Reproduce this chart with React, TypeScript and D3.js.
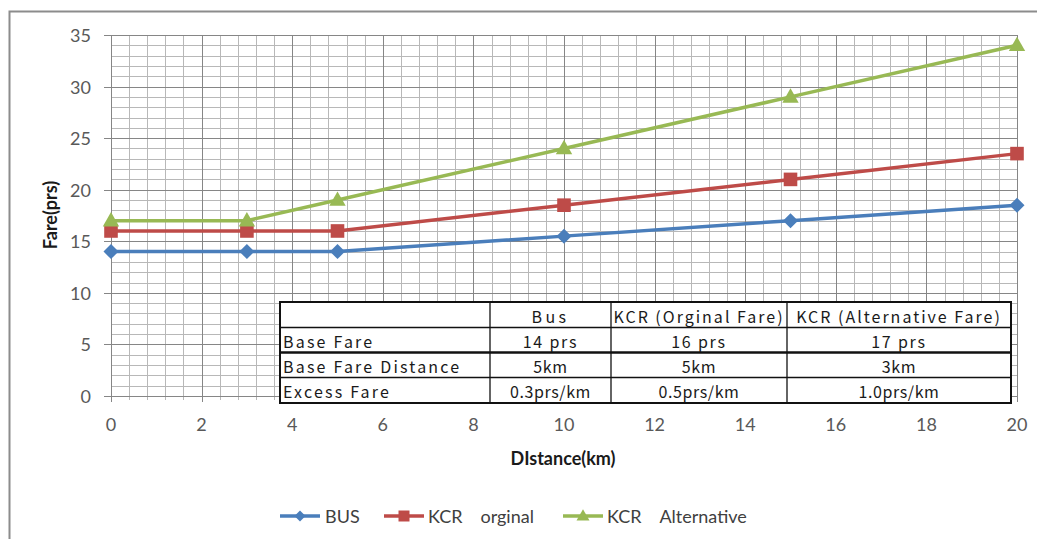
import React from "react";
import * as d3 from "d3";

const distances = [0, 3, 5, 10, 15, 20];
const busFare = [14, 14, 14, 15.5, 17, 18.5];
const kcrOriginalFare = [16, 16, 16, 18.5, 21, 23.5];
const kcrAlternativeFare = [17, 17, 19, 24, 29, 34];

const xTicks = [0, 2, 4, 6, 8, 10, 12, 14, 16, 18, 20];
const yTicks = [0, 5, 10, 15, 20, 25, 30, 35];

const seriesNames = ["BUS", "KCR\u3000orginal", "KCR\u3000Alternative"];
const seriesColors = ["#4A7EBB", "#BE4B48", "#98B954"];
const seriesShapes = ["diamond", "square", "triangle"];

const tableHeader = ["", "Bus", "KCR (Orginal Fare)", "KCR (Alternative Fare)"];
const tableRowLabels = ["Base Fare", "Base Fare Distance", "Excess Fare"];
const tableBus = ["14 prs", "5km", "0.3prs/km"];
const tableKcrOriginal = ["16 prs", "5km", "0.5prs/km"];
const tableKcrAlternative = ["17 prs", "3km", "1.0prs/km"];

const W = 1037;
const H = 539;
const X0 = 111, X1 = 1017, Y0 = 396, Y1 = 35;

function markerPath(shape: string, s: number): string {
  if (shape === "diamond") {
    return `M0,${-s}L${s},0L0,${s}L${-s},0Z`;
  }
  if (shape === "square") {
    return `M${-s},${-s}H${s}V${s}H${-s}Z`;
  }
  const h = s * 1.75;
  return `M0,${-h * 0.6}L${s},${h * 0.4}L${-s},${h * 0.4}Z`;
}

const markerSizes = [7.5, 6.8, 8.2];
const legendMarkerSizes = [5.5, 5.5, 6.5];

export default function App() {
  const x = d3.scaleLinear().domain([0, 20]).range([X0, X1]);
  const y = d3.scaleLinear().domain([0, 35]).range([Y0, Y1]);
  const series = [busFare, kcrOriginalFare, kcrAlternativeFare];
  const line = d3
    .line<[number, number]>()
    .x((d) => x(d[0]))
    .y((d) => y(d[1]));

  const minorX = d3.range(0, 20.0001, 0.4);
  const minorY = d3.range(0, 35.0001, 1);

  const tLeft = 280;
  const colEdges = [280, 490, 611, 787, 1011];
  const rowEdges = [302, 327.5, 352.5, 377.5, 403];
  const tableFont = "'Noto Sans CJK JP', sans-serif";
  const bodyCols = [tableBus, tableKcrOriginal, tableKcrAlternative];

  const legendItems = [
    { lx: 280, tx: 325 },
    { lx: 384, tx: 428 },
    { lx: 563, tx: 607 },
  ];

  return (
    <svg
      width={W}
      height={H}
      style={{ position: "absolute", left: 0, top: 0, background: "#fff" }}
    >
      <rect x={0} y={0} width={W} height={H} fill="#fff" />
      <rect x={9.5} y={11.5} width={W + 20} height={H + 20} fill="#fff" stroke="#8c8c8c" strokeWidth={2} />

      <g stroke="#b8b8b8" strokeWidth={1}>
        {minorX.map((v, i) => (
          <line key={"mx" + i} x1={Math.round(x(v)) + 0.5} x2={Math.round(x(v)) + 0.5} y1={y(35)} y2={Y0 + 4} />
        ))}
        {minorY.map((v, i) => (
          <line key={"my" + i} x1={X0} x2={X1} y1={Math.round(y(v)) + 0.5} y2={Math.round(y(v)) + 0.5} />
        ))}
      </g>
      <g stroke="#868686" strokeWidth={1}>
        {xTicks.map((v) => (
          <line key={"Mx" + v} x1={Math.round(x(v)) + 0.5} x2={Math.round(x(v)) + 0.5} y1={y(35)} y2={Y0 + 6} />
        ))}
        {yTicks.map((v) => (
          <line key={"My" + v} x1={X0 - 7} x2={X1} y1={Math.round(y(v)) + 0.5} y2={Math.round(y(v)) + 0.5} />
        ))}
      </g>

      <g fontFamily="Lato, sans-serif" fontSize={18} fill="#595959">
        {yTicks.map((v) => (
          <text key={"yt" + v} x={91} y={y(v)} textAnchor="end" dominantBaseline="central">
            {v}
          </text>
        ))}
        {xTicks.map((v) => (
          <text key={"xt" + v} x={x(v)} y={424} textAnchor="middle" dominantBaseline="central">
            {v}
          </text>
        ))}
      </g>

      <text
        x={563}
        y={458}
        textAnchor="middle"
        dominantBaseline="central"
        fontFamily="Lato, sans-serif"
        fontWeight="bold"
        fontSize={18}
        fill="#1a1a1a"
      >
        DIstance(km)
      </text>
      <text
        transform="translate(50,215) rotate(-90)"
        textAnchor="middle"
        dominantBaseline="central"
        fontFamily="Lato, sans-serif"
        fontWeight="bold"
        fontSize={18}
        fill="#1a1a1a"
      >
        Fare(prs)
      </text>

      {series.map((vals, si) => {
        const pts = distances.map((d, i) => [d, vals[i]] as [number, number]);
        return (
          <g key={"s" + si}>
            <path d={line(pts) as string} fill="none" stroke={seriesColors[si]} strokeWidth={3.5} />
            {pts.map((p, i) => (
              <path
                key={i}
                d={markerPath(seriesShapes[si], markerSizes[si])}
                transform={`translate(${x(p[0])},${y(p[1])})`}
                fill={seriesColors[si]}
              />
            ))}
          </g>
        );
      })}

      <g fontFamily={tableFont} fontSize={16} fill="#1a1a1a">
        <rect
          x={tLeft}
          y={rowEdges[0]}
          width={colEdges[4] - colEdges[0]}
          height={rowEdges[4] - rowEdges[0]}
          fill="#fff"
          stroke="none"
        />
        {rowEdges.slice(1, 4).map((ry, i) => (
          <line
            key={"tr" + i}
            x1={colEdges[0]}
            x2={colEdges[4]}
            y1={ry}
            y2={ry}
            stroke="#111"
            strokeWidth={i === 1 ? 2.5 : 1.3}
          />
        ))}
        {colEdges.slice(1, 4).map((cx, i) => (
          <line key={"tc" + i} x1={cx} x2={cx} y1={rowEdges[0]} y2={rowEdges[4]} stroke="#111" strokeWidth={1.3} />
        ))}
        <rect
          x={tLeft}
          y={rowEdges[0]}
          width={colEdges[4] - colEdges[0]}
          height={rowEdges[4] - rowEdges[0]}
          fill="none"
          stroke="#111"
          strokeWidth={2}
        />
        {tableHeader.map((h, ci) =>
          h ? (
            <text
              key={"th" + ci}
              x={(colEdges[ci] + colEdges[ci + 1]) / 2}
              y={(rowEdges[0] + rowEdges[1]) / 2 + 1}
              textAnchor="middle"
              dominantBaseline="central"
              letterSpacing={ci === 1 ? 3.5 : 2}
            >
              {h}
            </text>
          ) : null
        )}
        {tableRowLabels.map((lab, ri) => (
          <text
            key={"tl" + ri}
            x={colEdges[0] + 3}
            y={(rowEdges[ri + 1] + rowEdges[ri + 2]) / 2 + 1}
            dominantBaseline="central"
            letterSpacing={2.2}
          >
            {lab}
          </text>
        ))}
        {bodyCols.map((col, ci) =>
          col.map((v, ri) => (
            <text
              key={"tb" + ci + "-" + ri}
              x={(colEdges[ci + 1] + colEdges[ci + 2]) / 2}
              y={(rowEdges[ri + 1] + rowEdges[ri + 2]) / 2 + 1}
              textAnchor="middle"
              dominantBaseline="central"
              letterSpacing={ri === 0 ? 1.8 : 0.6}
            >
              {v}
            </text>
          ))
        )}
      </g>

      <g fontFamily="Lato, sans-serif" fontSize={18} fill="#404040">
        {seriesNames.map((name, i) => (
          <g key={"lg" + i}>
            <line
              x1={legendItems[i].lx}
              x2={legendItems[i].lx + 40}
              y1={516}
              y2={516}
              stroke={seriesColors[i]}
              strokeWidth={3.5}
            />
            <path
              d={markerPath(seriesShapes[i], legendMarkerSizes[i])}
              transform={`translate(${legendItems[i].lx + 20},516)`}
              fill={seriesColors[i]}
            />
            <text x={legendItems[i].tx} y={516} dominantBaseline="central" style={{ whiteSpace: "pre" }}>
              {name}
            </text>
          </g>
        ))}
      </g>
    </svg>
  );
}
